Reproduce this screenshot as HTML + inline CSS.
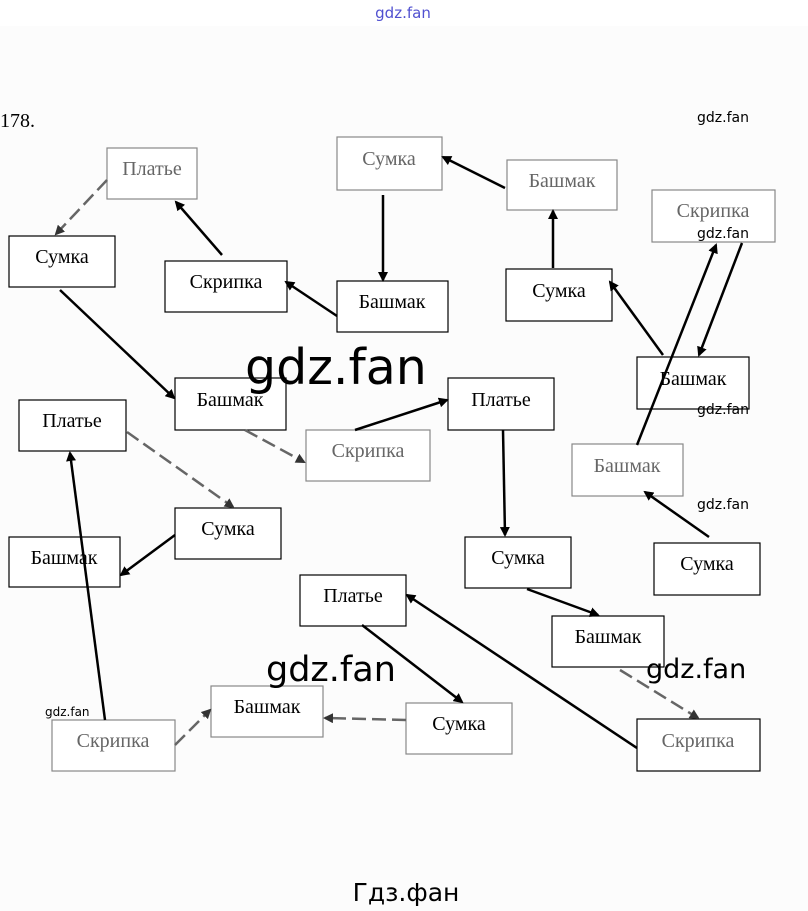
<!DOCTYPE html>
<html><head><meta charset="utf-8"><style>
body{margin:0;background:#fff}
svg{display:block}
.b{fill:#fff;stroke:#000;stroke-width:1.2}
.g{fill:#fff;stroke:#888;stroke-width:1.2}
.t{font-family:"Liberation Serif",serif;font-size:20px;text-anchor:middle;fill:#000}
.tg{font-family:"Liberation Serif",serif;font-size:20px;text-anchor:middle;fill:#666}
.w{font-family:"DejaVu Sans","Liberation Sans",sans-serif;fill:#000}
.a{stroke:#000;stroke-width:2.5;marker-end:url(#m)}
.ag{stroke:#666;stroke-width:2.5;marker-end:url(#m2);stroke-dasharray:14 6}
</style></head><body>
<svg width="808" height="911" viewBox="0 0 808 911" xmlns="http://www.w3.org/2000/svg">
<defs>
<marker id="m" markerWidth="10" markerHeight="10" refX="8" refY="5" orient="auto" markerUnits="userSpaceOnUse"><path d="M0,0 L10,5 L0,10 z" fill="#000"/></marker>
<marker id="m2" markerWidth="10" markerHeight="10" refX="8" refY="5" orient="auto" markerUnits="userSpaceOnUse"><path d="M0,0 L10,5 L0,10 z" fill="#333"/></marker>
</defs>
<rect x="0" y="26" width="808" height="885" fill="#fcfcfc"/>
<text x="403" y="18" class="w" font-size="15" text-anchor="middle" fill="#4848c8" style="fill:#5050d0">gdz.fan</text>
<text x="0" y="127" font-family="Liberation Serif,serif" font-size="20">178.</text>
<text x="697" y="122" class="w" font-size="14">gdz.fan</text>

<!-- boxes -->
<rect class="g" x="107" y="148" width="90" height="51"/><text class="tg" x="152" y="175">Платье</text>
<rect class="b" x="9" y="236" width="106" height="51"/><text class="t" x="62" y="263">Сумка</text>
<rect class="b" x="165" y="261" width="122" height="51"/><text class="t" x="226" y="288">Скрипка</text>
<rect class="g" x="337" y="137" width="105" height="53"/><text class="tg" x="389" y="165">Сумка</text>
<rect class="b" x="337" y="281" width="111" height="51"/><text class="t" x="392" y="308">Башмак</text>
<rect class="g" x="507" y="160" width="110" height="50"/><text class="tg" x="562" y="187">Башмак</text>
<rect class="b" x="506" y="269" width="106" height="52"/><text class="t" x="559" y="297">Сумка</text>
<rect class="g" x="652" y="190" width="123" height="52"/><text class="tg" x="713" y="217">Скрипка</text>
<rect class="b" x="637" y="357" width="112" height="52"/><text class="t" x="693" y="385">Башмак</text>
<rect class="b" x="175" y="378" width="111" height="52"/><text class="t" x="230" y="406">Башмак</text>
<rect class="b" x="448" y="378" width="106" height="52"/><text class="t" x="501" y="406">Платье</text>
<rect class="g" x="306" y="430" width="124" height="51"/><text class="tg" x="368" y="457">Скрипка</text>
<rect class="g" x="572" y="444" width="111" height="52"/><text class="tg" x="627" y="472">Башмак</text>
<rect class="b" x="19" y="400" width="107" height="51"/><text class="t" x="72" y="427">Платье</text>
<rect class="b" x="175" y="508" width="106" height="51"/><text class="t" x="228" y="535">Сумка</text>
<rect class="b" x="9" y="537" width="111" height="50"/><text class="t" x="64" y="564">Башмак</text>
<rect class="b" x="465" y="537" width="106" height="51"/><text class="t" x="518" y="564">Сумка</text>
<rect class="b" x="654" y="543" width="106" height="52"/><text class="t" x="707" y="570">Сумка</text>
<rect class="b" x="300" y="575" width="106" height="51"/><text class="t" x="353" y="602">Платье</text>
<rect class="b" x="552" y="616" width="112" height="51"/><text class="t" x="608" y="643">Башмак</text>
<rect class="g" x="211" y="686" width="112" height="51"/><text class="t" x="267" y="713">Башмак</text>
<rect class="g" x="406" y="703" width="106" height="51"/><text class="t" x="459" y="730">Сумка</text>
<rect class="g" x="52" y="720" width="123" height="51"/><text class="tg" x="113" y="747">Скрипка</text>
<rect class="b" x="637" y="719" width="123" height="52"/><text class="tg" x="698" y="747">Скрипка</text>

<!-- arrows -->
<line class="ag" x1="107" y1="180" x2="56" y2="234"/>
<line class="a" x1="222" y1="255" x2="176" y2="202"/>
<line class="a" x1="60" y1="290" x2="174" y2="398"/>
<line class="a" x1="337" y1="316" x2="286" y2="282"/>
<line class="a" x1="383" y1="195" x2="383" y2="280"/>
<line class="a" x1="505" y1="188" x2="443" y2="157"/>
<line class="a" x1="553" y1="268" x2="553" y2="211"/>
<line class="a" x1="663" y1="355" x2="610" y2="282"/>
<line class="a" x1="742" y1="243" x2="699" y2="355"/>
<line class="a" x1="637" y1="445" x2="716" y2="245"/>
<line class="a" x1="709" y1="537" x2="645" y2="492"/>
<line class="ag" x1="245" y1="430" x2="304" y2="462"/>
<line class="a" x1="355" y1="430" x2="447" y2="400"/>
<line class="a" x1="503" y1="430" x2="505" y2="535"/>
<line class="ag" x1="127" y1="432" x2="233" y2="507"/>
<line class="a" x1="175" y1="535" x2="121" y2="575"/>
<line class="a" x1="105" y1="720" x2="70" y2="453"/>
<line class="ag" x1="175" y1="745" x2="210" y2="710"/>
<line class="ag" x1="406" y1="720" x2="325" y2="718"/>
<line class="a" x1="362" y1="625" x2="462" y2="702"/>
<line class="a" x1="637" y1="748" x2="407" y2="595"/>
<line class="a" x1="527" y1="589" x2="598" y2="615"/>
<line class="ag" x1="620" y1="670" x2="698" y2="718"/>

<!-- watermarks -->
<text x="245" y="384" class="w" font-size="49">gdz.fan</text>
<text x="266" y="681" class="w" font-size="35">gdz.fan</text>
<text x="646" y="678" class="w" font-size="27">gdz.fan</text>
<text x="697" y="238" class="w" font-size="14">gdz.fan</text>
<text x="697" y="414" class="w" font-size="14">gdz.fan</text>
<text x="697" y="509" class="w" font-size="14">gdz.fan</text>
<text x="45" y="716" class="w" font-size="12">gdz.fan</text>
<text x="406" y="901" class="w" font-size="25" text-anchor="middle">Гдз.фан</text>
</svg>
</body></html>
